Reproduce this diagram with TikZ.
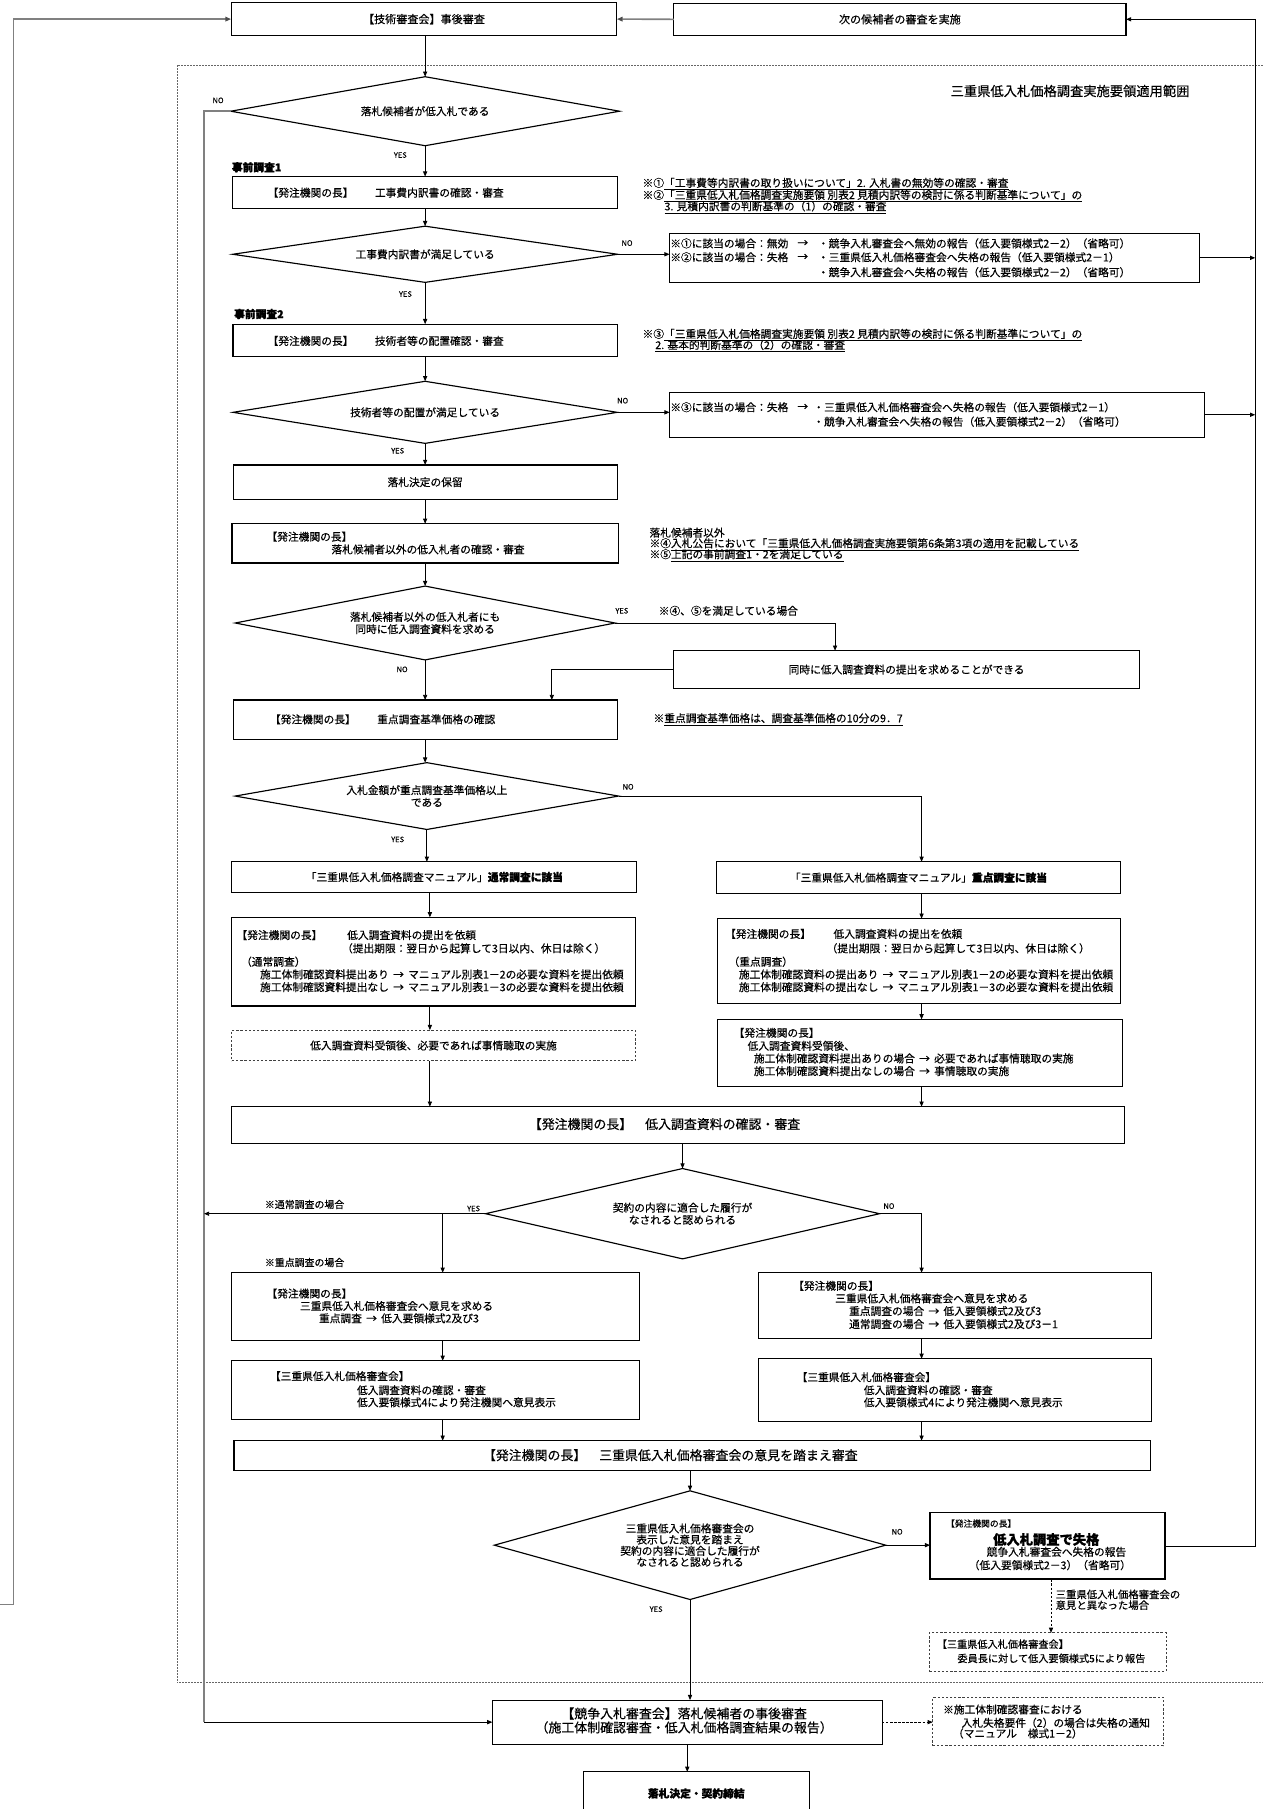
\documentclass[tikz,border=0pt]{standalone}
\usepackage{fontspec}
\setmainfont{Noto Sans CJK JP}[FakeBold=0.35, BoldFeatures={FakeBold=1.3}]
\usetikzlibrary{arrows.meta,shapes.geometric}
\newcommand\Fn{\fontsize{9.3}{10.8}\selectfont}
\newcommand\Fd{\fontsize{9.3}{10.6}\selectfont}
\newcommand\Fdd{\fontsize{9.3}{9.7}\selectfont}
\newcommand\Fl{\fontsize{11.2}{12.1}\selectfont}
\newcommand\Ft{\fontsize{11.5}{13}\selectfont}
\newcommand\Fy{\fontsize{6.5}{7}\selectfont}
\newcommand\Fsm{\fontsize{8.6}{9.3}\selectfont}
\newcommand\Fm{\fontsize{7.6}{8}\selectfont}
\newcommand\Fb{\fontsize{11.5}{12}\selectfont\bfseries}
\newcommand\Ar{\hspace{0.4em}→\hspace{0.4em}}
\newcommand\Tl[4]{\node[anchor=west] (#1) at (#2,#3) {#4};}
\newcommand\Tc[4]{\node (#1) at (#2,#3) {#4};}
\newcommand\Yn[4]{\node[font=\Fy] (#1) at (#2,#3) {#4};}
\tikzset{
  every node/.append style={inner sep=0pt, outer sep=0pt, font=\Fn},
  box/.style={draw, line width=1pt, align=center},
  fbox/.style={draw, line width=1.7pt, align=center},
  dbox/.style={draw=black!75, line width=0.8pt, dash pattern=on 2pt off 1.6pt, align=center},
  dia/.style={diamond, draw, line width=1pt, align=center, font=\Fd},
  arr/.style={line width=0.75pt, -{Triangle[length=4.5pt,width=3.6pt]}},
  garr/.style={draw=black!50, line width=1.4pt, -{Triangle[length=5pt,width=4pt,color=black!70]}},
  gline/.style={draw=black!50, line width=1.4pt},
  darr/.style={line width=0.75pt, dash pattern=on 2pt off 1.5pt, -{Triangle[length=4.5pt,width=3.6pt]}},
  region/.style={draw=black!60, line width=0.8pt, dash pattern=on 1.3pt off 1.3pt}
}
\begin{document}
\begin{tikzpicture}[x=1pt,y=-1pt]
\useasboundingbox (0,0) rectangle (1093.9,1568);
% region
\draw[region] (1110,56.4) -- (153.4,56.4) -- (153.4,1458.6) -- (1110,1458.6);
\node[font=\Ft] (title) at (927.5,78.9) {三重県低入札価格調査実施要領適用範囲};

% top boxes
\node[box, minimum width=334.4pt, minimum height=28.1pt, font=\fontsize{9.6}{11}\selectfont] (B1) at (367.5,16.55) {【技術審査会】事後審査};
\node[box, minimum width=392pt, minimum height=27.7pt, font=\fontsize{9.6}{11}\selectfont] (B2) at (780,16.75) {次の候補者の審査を実施};

% main column
\node[dia, minimum width=337pt, minimum height=59.8pt, aspect=5.6] (D1) at (368.5,96.4) {落札候補者が低入札である};
\Tl{L1}{201}{145}{\textbf{事前調査1}}
\node[box, minimum width=333.4pt, minimum height=27.5pt] (B3) at (368.5,166.85) {};
\Tl{t3}{232}{167}{【発注機関の長】　　工事費内訳書の確認・審査}
\Tl{n1}{557}{159.5}{※①\underline{「工事費等内訳書の取り扱いについて」2. 入札書の無効等の確認・審査}}
\Tl{n2}{557}{170}{※②\underline{「三重県低入札価格調査実施要領 別表2 見積内訳等の検討に係る判断基準について」の}}
\Tl{n3}{576}{179.8}{\underline{3. 見積内訳書の判断基準の（1）の確認・審査}}

\node[dia, minimum width=333.6pt, minimum height=48.7pt, aspect=6.85] (D2) at (368.5,220.4) {工事費内訳書が満足している};
\node[box, minimum width=459.6pt, minimum height=42.4pt] (N1) at (810.2,223.5) {};
\Tl{n4}{581}{211}{※①に該当の場合：無効}
\Tc{n4a}{695.8}{211}{→}
\Tl{n4b}{709}{211}{・競争入札審査会へ無効の報告（低入要領様式2－2）（省略可）}
\Tl{n5}{581}{223}{※②に該当の場合：失格}
\Tc{n5a}{695.8}{223}{→}
\Tl{n5b}{709}{223}{・三重県低入札価格審査会へ失格の報告（低入要領様式2－1）}
\Tl{n6}{709}{236}{・競争入札審査会へ失格の報告（低入要領様式2－2）（省略可）}

\Tl{L2}{203}{272.2}{\textbf{事前調査2}}
\node[box, minimum width=333pt, minimum height=28.2pt] (B4) at (368.5,295.1) {};
\Tl{t4}{232}{295.5}{【発注機関の長】　　技術者等の配置確認・審査}
\Tl{n7}{557}{290.4}{※③\underline{「三重県低入札価格調査実施要領 別表2 見積内訳等の検討に係る判断基準について」の}}
\Tl{n8}{568}{300}{\underline{2. 基本的判断基準の（2）の確認・審査}}

\node[dia, minimum width=333pt, minimum height=53.8pt, aspect=6.2] (D3) at (368.5,357.4) {技術者等の配置が満足している};
\node[box, minimum width=463.4pt, minimum height=39pt] (N2) at (812.1,359.5) {};
\Tl{n9}{581}{353}{※③に該当の場合：失格}
\Tc{n9a}{695.8}{353}{→}
\Tl{n9b}{705}{353}{・三重県低入札価格審査会へ失格の報告（低入要領様式2－1）}
\Tl{n10}{705}{365.5}{・競争入札審査会へ失格の報告（低入要領様式2－2）（省略可）}

\node[box, minimum width=332.9pt, minimum height=29.8pt] (B5) at (368.5,417.9) {落札決定の保留};

\node[box, minimum width=334.8pt, minimum height=34pt] (B6) at (368.5,471) {};
\Tl{t6a}{231}{465.2}{【発注機関の長】}
\Tc{t6b}{371}{476.2}{落札候補者以外の低入札者の確認・審査}
\Tl{n11}{563}{461.7}{落札候補者以外}
\Tl{n12}{563}{471.9}{※④\underline{入札公告において「三重県低入札価格調査実施要領第6条第3項の適用を記載している}}
\Tl{n13}{563}{481.4}{※⑤\underline{上記の事前調査1・2を満足している}}

\node[dia, minimum width=329.2pt, minimum height=64pt, aspect=5.1] (D4) at (368.5,540) {落札候補者以外の低入札者にも\\同時に低入調査資料を求める};
\Tl{n14}{571}{529.4}{※④、⑤を満足している場合}
\node[box, minimum width=404.4pt, minimum height=32.7pt] (B7) at (785.8,580.35) {同時に低入調査資料の提出を求めることができる};

\node[box, minimum width=332.9pt, minimum height=34.1pt] (B8) at (368.5,623.85) {};
\Tl{t8}{234}{623.5}{【発注機関の長】　　重点調査基準価格の確認}
\Tl{n15}{566.5}{623.5}{※\underline{重点調査基準価格は、調査基準価格の10分の9．7}}

\node[dia, minimum width=332.3pt, minimum height=57.9pt, aspect=5.7] (D5) at (370,690) {入札金額が重点調査基準価格以上\\である};

% two columns
\node[box, minimum width=351pt, minimum height=26.5pt] (B9) at (376.5,760.25) {「三重県低入札価格調査マニュアル」\textbf{通常調査に該当}};
\node[box, minimum width=350.8pt, minimum height=27.4pt] (B10) at (796.1,760.7) {「三重県低入札価格調査マニュアル」\textbf{重点調査に該当}};

\node[box, minimum width=349.8pt, minimum height=76.8pt] (B11) at (375.9,833.6) {};
\Tl{t11a}{205}{810.5}{【発注機関の長】}
\Tl{t11b}{301}{810.5}{低入調査資料の提出を依頼}
\Tl{t11c}{296.5}{822}{（提出期限：翌日から起算して3日以内、休日は除く）}
\Tl{t11d}{209}{833.6}{（通常調査）}
\Tl{t11e}{225.5}{844.6}{施工体制確認資料提出あり\Ar マニュアル別表1－2の必要な資料を提出依頼}
\Tl{t11f}{225.5}{855.6}{施工体制確認資料提出なし\Ar マニュアル別表1－3の必要な資料を提出依頼}

\node[box, minimum width=349.5pt, minimum height=73.7pt] (B12) at (796.75,833.15) {};
\Tl{t12a}{628.5}{809.5}{【発注機関の長】}
\Tl{t12b}{722.5}{809.5}{低入調査資料の提出を依頼}
\Tl{t12c}{716.5}{822}{（提出期限：翌日から起算して3日以内、休日は除く）}
\Tl{t12d}{631.5}{833.6}{（重点調査）}
\Tl{t12e}{640.5}{844.6}{施工体制確認資料の提出あり\Ar マニュアル別表1－2の必要な資料を提出依頼}
\Tl{t12f}{640.5}{855.6}{施工体制確認資料の提出なし\Ar マニュアル別表1－3の必要な資料を提出依頼}

\node[dbox, minimum width=349.6pt, minimum height=26.6pt] (B13) at (375.8,906.2) {低入調査資料受領後、必要であれば事情聴取の実施};

\node[box, minimum width=350.6pt, minimum height=57.8pt] (B14) at (797.3,912.5) {};
\Tl{t14a}{636}{895.2}{【発注機関の長】}
\Tl{t14b}{648}{906.5}{低入調査資料受領後、}
\Tl{t14c}{653.5}{917.4}{施工体制確認資料提出ありの場合\Ar 必要であれば事情聴取の実施}
\Tl{t14d}{653.5}{928.4}{施工体制確認資料提出なしの場合\Ar 事情聴取の実施}

\node[box, minimum width=773.6pt, minimum height=31.8pt] (B15) at (587.8,975.2) {};
\Tc{t15}{576}{974.3}{\Fl【発注機関の長】　低入調査資料の確認・審査}

\node[dia, minimum width=341.5pt, minimum height=78.3pt, aspect=4.36] (D6) at (591.6,1052) {契約の内容に適合した履行が\\なされると認められる};
\node[font=\Fsm] (n16) at (264,1044) {※通常調査の場合};
\node[font=\Fsm] (n17) at (264,1094.3) {※重点調査の場合};

\node[box, minimum width=353.5pt, minimum height=59pt] (B16) at (377.75,1132.7) {};
\Tl{t16a}{231}{1121.2}{【発注機関の長】}
\Tl{t16b}{260}{1132}{三重県低入札価格審査会へ意見を求める}
\Tl{t16c}{276.5}{1142.7}{重点調査\Ar 低入要領様式2及び3}

\node[box, minimum width=340.2pt, minimum height=56.7pt] (B17) at (827.9,1131.55) {};
\Tl{t17a}{687.5}{1114.5}{【発注機関の長】}
\Tl{t17b}{724}{1125.4}{三重県低入札価格審査会へ意見を求める}
\Tl{t17c}{736}{1136.4}{重点調査の場合\Ar 低入要領様式2及び3}
\Tl{t17d}{736}{1147.7}{通常調査の場合\Ar 低入要領様式2及び3－1}

\node[box, minimum width=353.5pt, minimum height=50.8pt] (B18) at (377.75,1204.9) {};
\Tl{t18a}{234}{1192.8}{【三重県低入札価格審査会】}
\Tl{t18b}{309.5}{1205}{低入調査資料の確認・審査}
\Tl{t18c}{309.5}{1215.5}{低入要領様式4により発注機関へ意見表示}

\node[box, minimum width=340.2pt, minimum height=54.6pt] (B19) at (827.9,1205.1) {};
\Tl{t19a}{690.5}{1193.7}{【三重県低入札価格審査会】}
\Tl{t19b}{748.8}{1205}{低入調査資料の確認・審査}
\Tl{t19c}{748.8}{1215.5}{低入要領様式4により発注機関へ意見表示}

\node[box, minimum width=794.1pt, minimum height=26pt] (B20) at (599.85,1261.8) {};
\Tc{t20}{581}{1261.3}{\Fl【発注機関の長】　三重県低入札価格審査会の意見を踏まえ審査}

\node[dia, minimum width=339.2pt, minimum height=94.2pt, aspect=3.6, font=\Fdd] (D7) at (598.1,1339.3) {三重県低入札価格審査会の\\表示した意見を踏まえ\\契約の内容に適合した履行が\\なされると認められる};

\node[fbox, minimum width=203.7pt, minimum height=58pt] (B21) at (908.05,1340) {};
\Tl{t21a}{820}{1320.5}{\Fm【発注機関の長】}
\Tc{t21b}{906.9}{1334.4}{\Fb 低入札調査で失格}
\Tc{t21c}{915.7}{1345.1}{競争入札審査会へ失格の報告}
\Tc{t21d}{910}{1356.6}{（低入要領様式2－3）（省略可）}
\node[font=\fontsize{9}{9.3}\selectfont, anchor=west] (t21e) at (915,1382) {三重県低入札価格審査会の};
\node[font=\fontsize{9}{9.3}\selectfont, anchor=west] (t21f) at (915,1391.3) {意見と異なった場合};

\node[dbox, minimum width=205.1pt, minimum height=33.2pt] (B22) at (908.15,1431.9) {};
\node[font=\fontsize{8.8}{9.5}\selectfont, anchor=west] (t22a) at (812,1425.1) {【三重県低入札価格審査会】};
\node[font=\fontsize{8.8}{9.5}\selectfont, anchor=west] (t22b) at (829.9,1437.5) {委員長に対して低入要領様式5により報告};

\node[box, minimum width=337.8pt, minimum height=38.2pt] (B23) at (595.7,1492.7) {};
\node[font=\fontsize{11.2}{12.1}\selectfont, align=center] (t23) at (593,1491.3) {【競争入札審査会】落札候補者の事後審査\\（施工体制確認審査・低入札価格調査結果の報告）};

\node[dbox, minimum width=199.9pt, minimum height=41.9pt] (B24) at (908.45,1492.25) {};
\Tl{t24a}{817.5}{1481.7}{※施工体制確認審査における}
\Tl{t24b}{833.5}{1493.3}{入札失格要件（2）の場合は失格の通知}
\Tl{t24c}{826}{1502.5}{（マニュアル　様式1－2）}

\node[box, minimum width=195.9pt, minimum height=49.2pt] (B25) at (603.65,1560.4) {};
\Tc{t25}{603.5}{1554.5}{\textbf{落札決定・契約締結}}

% YES / NO labels
\Yn{no1}{189}{87}{NO}
\Yn{ye1}{347}{134.4}{YES}
\Yn{no2}{543.5}{210.7}{NO}
\Yn{ye2}{351.4}{254.9}{YES}
\Yn{no3}{539.7}{347.3}{NO}
\Yn{ye3}{344.7}{390.7}{YES}
\Yn{ye4}{539}{529.4}{YES}
\Yn{no4}{348.5}{580.2}{NO}
\Yn{no5}{544.4}{682}{NO}
\Yn{ye5}{344.7}{727.6}{YES}
\Yn{ye6}{410.5}{1047.5}{YES}
\Yn{no6}{770.5}{1045.4}{NO}
\Yn{no7}{777.6}{1327.7}{NO}
\Yn{ye7}{568.7}{1394.8}{YES}

% coordinates for routes
\coordinate (g0) at (0,1390.7);
\coordinate (g1) at (11.6,0);
\coordinate (nl) at (176.8,0);
\coordinate (rl) at (1088,0);
\coordinate (c4) at (723.8,0);
\coordinate (c7) at (478.3,0);
\coordinate (lc) at (372.6,0);
\coordinate (rc) at (798.8,0);
\coordinate (yb) at (383.7,0);
\coordinate (dx) at (911,0);

% gray loops
\draw[gline] (g0) -- (g0 -| g1) -- (g1 |- B1.west);
\draw[garr] (g1 |- B1.west) -- (B1.west);
\draw[garr] (B2.west) -- (B1.east);
\draw[gline] (D1.west) -- (D1.west -| nl) -- (nl |- B23.west);
\draw[arr] (nl |- B23.west) -- (B23.west);

% right loop
\draw[arr] (B21.east) -- (B21.east -| rl) -- (rl |- B2.east) -- (B2.east);
\draw[arr] (N1.east) -- (N1.east -| rl);
\draw[arr] (N2.east) -- (N2.east -| rl);

% main column
\draw[arr] (D1.north |- B1.south) -- (D1.north);
\draw[arr] (D1.south) -- (D1.south |- B3.north);
\draw[arr] (B3.south) -- (B3.south |- D2.north);
\draw[arr] (D2.east) -- (D2.east -| N1.west);
\draw[arr] (D2.south) -- (D2.south |- B4.north);
\draw[arr] (B4.south) -- (B4.south |- D3.north);
\draw[arr] (D3.east) -- (D3.east -| N2.west);
\draw[arr] (D3.south) -- (D3.south |- B5.north);
\draw[arr] (B5.south) -- (B5.south |- B6.north);
\draw[arr] (B6.south) -- (B6.south |- D4.north);
\draw[arr] (D4.east) -| (c4 |- B7.north);
\draw[arr] (B7.west) -| (c7 |- B8.north);
\draw[arr] (D4.south) -- (D4.south |- B8.north);
\draw[arr] (B8.south) -- (B8.south |- D5.north);
\draw[arr] (D5.south) -- (D5.south |- B9.north);
\draw[arr] (D5.east) -| (rc |- B10.north);

% left column
\draw[arr] (lc |- B9.south) -- (lc |- B11.north);
\draw[arr] (lc |- B11.south) -- (lc |- B13.north);
\draw[arr] (lc |- B13.south) -- (lc |- B15.north);
% right column
\draw[arr] (rc |- B10.south) -- (rc |- B12.north);
\draw[arr] (rc |- B12.south) -- (rc |- B14.north);
\draw[arr] (rc |- B14.south) -- (rc |- B15.north);

\draw[arr] (D6.north |- B15.south) -- (D6.north);
\draw[arr] (D6.west) -- (D6.west -| nl);
\draw[arr] (D6.west -| yb) -- (yb |- B16.north);
\draw[arr] (D6.east) -| (rc |- B17.north);
\draw[arr] (yb |- B16.south) -- (yb |- B18.north);
\draw[arr] (rc |- B17.south) -- (rc |- B19.north);
\draw[arr] (yb |- B18.south) -- (yb |- B20.north);
\draw[arr] (rc |- B19.south) -- (rc |- B20.north);
\draw[arr] (D7.north |- B20.south) -- (D7.north);
\draw[arr] (D7.east) -- (D7.east -| B21.west);
\draw[arr] (D7.south) -- (D7.south |- B23.north);
\draw[darr] (dx |- B21.south) -- (dx |- B22.north);
\draw[darr] (B23.east) -- (B23.east -| B24.west);
\draw[arr] (B23.south) -- (B23.south |- B25.north);
\end{tikzpicture}
\end{document}
